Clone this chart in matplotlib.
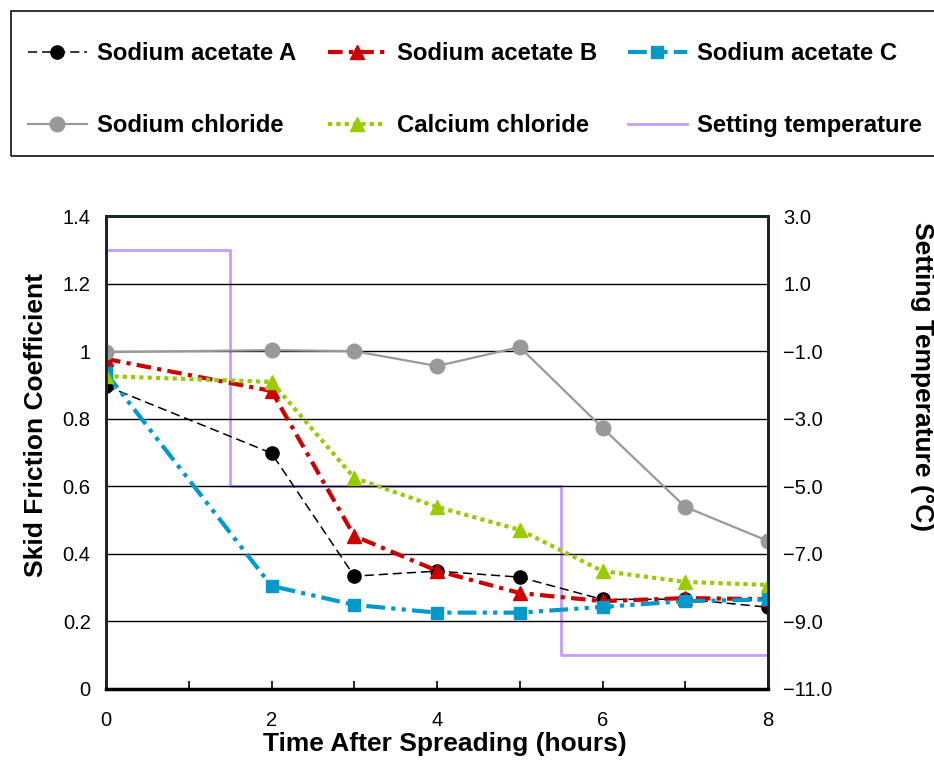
import matplotlib
matplotlib.use("Agg")
import matplotlib.pyplot as plt
from matplotlib.patches import Rectangle
from matplotlib.ticker import FixedLocator, FuncFormatter

plt.rcParams['font.family'] = ['Liberation Sans', 'DejaVu Sans']

hours = [0, 2, 3, 4, 5, 6, 7, 8]
sodium_acetate_a = [0.897, 0.698, 0.334, 0.349, 0.331, 0.265, 0.266, 0.242]
sodium_acetate_b = [0.977, 0.882, 0.453, 0.350, 0.284, 0.260, 0.269, 0.266]
sodium_acetate_c = [0.935, 0.305, 0.249, 0.226, 0.226, 0.243, 0.260, 0.265]
sodium_chloride = [0.997, 1.003, 1.000, 0.956, 1.012, 0.773, 0.539, 0.438]
calcium_chloride = [0.926, 0.909, 0.625, 0.539, 0.471, 0.349, 0.317, 0.308]

temp_hours = [0, 1.5, 5.5, 8]
setting_temp = [2.0, -5.0, -10.0, -10.0]

labels = ["Sodium acetate A", "Sodium acetate B", "Sodium acetate C",
          "Sodium chloride", "Calcium chloride", "Setting temperature"]

fig = plt.figure(figsize=(9.34, 7.63), dpi=100)
W, H = 934, 763
ax = fig.add_axes([106 / W, 1 - 689 / H, (768 - 106) / W, (689 - 216) / H])
ax2 = ax.twinx()
ax.set_zorder(ax2.get_zorder() + 1)
ax.patch.set_visible(False)

# Setting temperature (secondary axis)
lt, = ax2.step(temp_hours, setting_temp, where='post', color='#C89BFF', lw=2.0)
ax2.set_ylim(-11, 3)
ax2.set_yticks([3, 1, -1, -3, -5, -7, -9, -11])
ax2.yaxis.set_major_formatter(FuncFormatter(lambda v, p: f"{v:.1f}".replace('-', '\u2212')))
ax2.tick_params(axis='y', length=0, pad=11, labelsize=14.5)
ax2.set_ylabel("Setting Temperature (\u00b0C)", fontsize=19, fontweight='bold',
               rotation=-90)
ax2.yaxis.label.set(ha='center', va='center')
ax2.yaxis.set_label_coords(1.232, 0.66)

la, = ax.plot(hours, sodium_acetate_a, color='black', lw=1.1, dashes=(6, 3.2),
              marker='o', ms=9.5, mfc='black', mec='black')
lb, = ax.plot(hours, sodium_acetate_b, color='#CC0000', lw=3.0, dashes=(3.5, 1.5, 1, 1.5),
              marker='^', ms=10.5, mfc='#CC0000', mec='#CC0000')
lc, = ax.plot(hours, sodium_acetate_c, color='#0099CC', lw=3.0,
              dashes=(4.5, 1.5, 1, 1.5, 1, 1.5),
              marker='s', ms=9, mfc='#0099CC', mec='#0099CC')
ln, = ax.plot(hours, sodium_chloride, color='#999999', lw=1.6,
              marker='o', ms=10.5, mfc='#999999', mec='#999999')
lcc, = ax.plot(hours, calcium_chloride, color='#99CC00', lw=3.0, dashes=(1, 1),
               marker='^', ms=10.5, mfc='#99CC00', mec='#99CC00')

ax.set_xlim(0, 8)
ax.set_ylim(0, 1.4)
ax.set_yticks([0, 0.2, 0.4, 0.6, 0.8, 1.0, 1.2, 1.4])
ax.yaxis.set_major_formatter(FuncFormatter(lambda v, p: f"{v:g}"))
ax.set_xticks([0, 2, 4, 6, 8])
ax.xaxis.set_minor_locator(FixedLocator([1, 3, 5, 7]))
ax.tick_params(axis='x', which='both', direction='in', length=6, width=1.2,
               pad=16, labelsize=14.5, top=False)
ax.tick_params(axis='y', length=0, pad=11, labelsize=14.5)
ax.grid(axis='y', color='black', lw=1.0)
ax.set_axisbelow(True)
ax.set_xlabel("Time After Spreading (hours)", fontsize=19, fontweight='bold')
ax.xaxis.label.set(ha='center', va='center')
ax.xaxis.set_label_coords(0.512, -0.116)
ax.set_ylabel("Skid Friction Coefficient", fontsize=19, fontweight='bold')
ax.yaxis.label.set(ha='center', va='center')
ax.yaxis.set_label_coords(-0.1057, 0.558)

for a in (ax, ax2):
    for s in a.spines.values():
        s.set_color('#1a2626')
        s.set_linewidth(2.0)
ax.spines['bottom'].set_linewidth(2.5)
ax.spines['bottom'].set_color('black')

# Legend frame
fig.patches.append(Rectangle((11 / W, 1 - 156 / H), (950 - 11) / W, (156 - 11) / H,
                             transform=fig.transFigure, fill=False,
                             edgecolor='#222222', lw=1.3, clip_on=False))

handles = [la, ln, lb, lcc, lc, lt]
hl = [labels[0], labels[3], labels[1], labels[4], labels[2], labels[5]]
leg = fig.legend(handles, hl, ncol=3, loc='upper left',
                 bbox_to_anchor=(28 / W, 1 - 42 / H), frameon=False,
                 borderpad=0, prop={'weight': 'bold', 'size': 17.2},
                 handlelength=2.45, handletextpad=0.45, columnspacing=1.3,
                 labelspacing=2.05, numpoints=1, borderaxespad=0)

fig.savefig("out.png", dpi=100)
